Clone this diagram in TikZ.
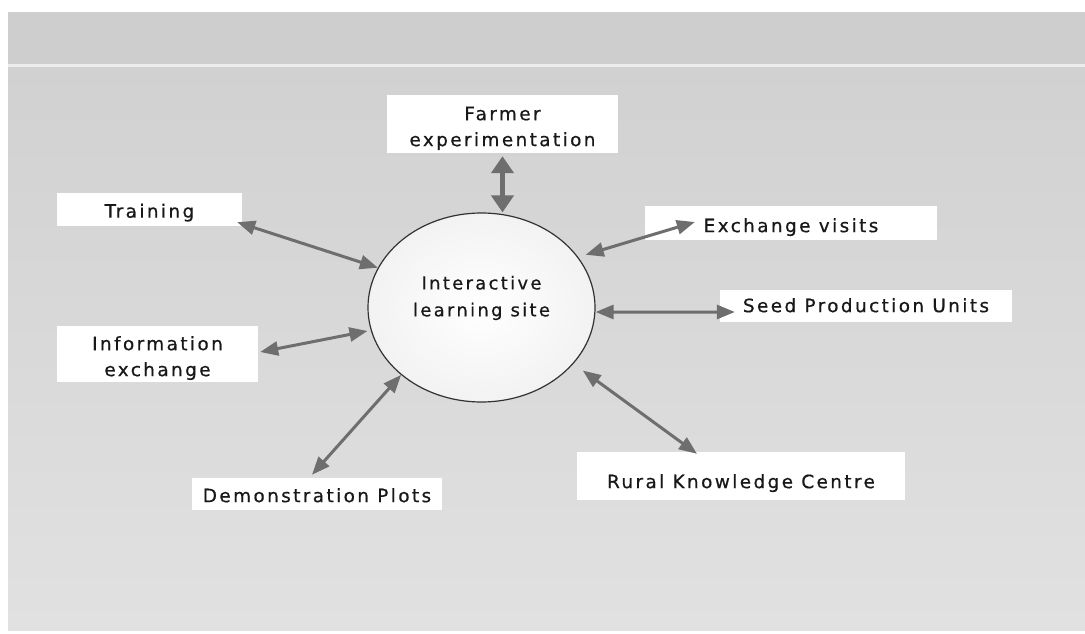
\documentclass[tikz,border=0pt]{standalone}
\usepackage{fontspec}
\setmainfont{DejaVu Sans}[LetterSpace=13,FakeBold=0.6]
\usetikzlibrary{arrows.meta,shapes.geometric}
\definecolor{arr}{RGB}{110,110,110}
\definecolor{txt}{RGB}{24,24,24}
\definecolor{edge}{RGB}{50,50,50}
\definecolor{band}{RGB}{206,206,206}
\definecolor{sep}{RGB}{236,236,236}
\definecolor{bgtop}{RGB}{209,209,209}
\definecolor{bgbot}{RGB}{225,225,225}
\newcommand\boxlines[2][-4bp]{\raisebox{#1}[\height][\depth]{\begin{tabular}{@{}c@{}}#2\end{tabular}}}
\begin{document}
\begin{tikzpicture}[x=1bp,y=-1bp,
  lbl/.style={fill=white, inner sep=0pt, text=txt,
    font=\fontsize{18.5}{26}\selectfont},
  link/.style={arr, line width=3bp,
    {Triangle[length=18bp,width=14bp]}-{Triangle[length=18bp,width=14bp]}},
  biglink/.style={arr, line width=5bp,
    {Triangle[length=17bp,width=22bp]}-{Triangle[length=17bp,width=22bp]}}]
\useasboundingbox (0,0) rectangle (1085,634);
\fill[white] (0,0) rectangle (1085,634);
\fill[band] (8,12) rectangle (1085,64);
\fill[sep] (8,64) rectangle (1085,68);
\shade[top color=bgtop,bottom color=bgbot] (8,68) rectangle (1085,630);

\node[lbl, minimum width=231bp, minimum height=58bp] (F) at (502.5,124) {\boxlines{Farmer\\experimentation}};
\node[lbl, minimum width=185bp, minimum height=33bp] (T) at (149.5,209.5) {\boxlines[-3bp]{Training}};
\node[lbl, minimum width=292bp, minimum height=34bp] (E) at (791,223) {\boxlines{Exchange visits}};
\node[lbl, minimum width=292bp, minimum height=32bp] (S) at (866,306) {\boxlines[-1bp]{Seed Production Units}};
\node[lbl, minimum width=201bp, minimum height=56bp] (I) at (157.5,354) {\boxlines{Information\\exchange}};
\node[lbl, minimum width=250bp, minimum height=32bp] (D) at (317,494) {\boxlines[-3bp]{Demonstration Plots}};
\node[lbl, minimum width=328bp, minimum height=48bp] (R) at (741,476) {\boxlines[-7bp]{Rural Knowledge Centre}};
\node[ellipse, draw=edge, line width=1.2bp, inner color=white, outer color=gray!10,
  minimum width=227bp, minimum height=189bp, inner sep=0pt, text=txt,
  font=\fontsize{18}{27}\selectfont] (c) at (481.5,307.5)
  {\boxlines[10bp]{Interactive\\learning site}};

\draw[biglink] ([yshift=-3bp]F.south) -- (F.south |- c.north);
\draw[link] ([xshift=-5bp,yshift=4bp]T.south east) -- (c.159);
\draw[link] ([xshift=50bp,yshift=1bp]E.west) -- ([xshift=8bp,yshift=1.6bp]c.28);
\draw[link] ([yshift=-4.5bp]c.east) -- ([xshift=15bp,yshift=-6bp]S.west);
\draw[link] ([xshift=2bp,yshift=2bp]I.east) -- ([xshift=-3.5bp]c.192);
\draw[link] ([xshift=-5bp,yshift=3bp]D.north) -- (c.220);
\draw[link] ([xshift=10bp,yshift=-6bp]c.-32) -- ([xshift=-44bp,yshift=-2bp]R.north);
\end{tikzpicture}
\end{document}
